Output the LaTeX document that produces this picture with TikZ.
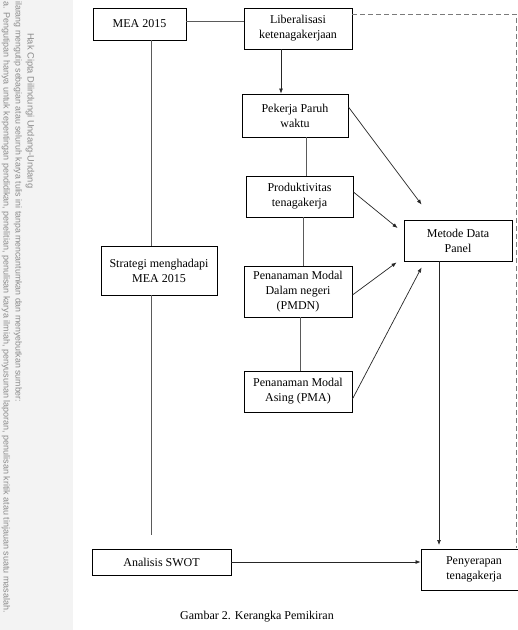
\documentclass[tikz,border=0pt]{standalone}
\usepackage{fontspec}
\setmainfont{Liberation Serif}
\newfontfamily\wmfont{Liberation Sans}
\usetikzlibrary{arrows.meta}
\definecolor{linegray}{HTML}{5A5A5A}
\definecolor{dashgray}{HTML}{7A7A7A}
\definecolor{wmgray}{HTML}{8C8C8C}
\definecolor{bandgray}{HTML}{F3F3F3}
\begin{document}
\begin{tikzpicture}[x=1pt,y=-1pt,
  box/.style={draw=black,line width=0.9pt,fill=white,inner sep=0pt,align=center,
    font=\fontsize{12}{15}\selectfont},
  plain/.style={draw=linegray,line width=0.9pt},
  arr/.style={draw=black!85,line width=0.7pt,-{Latex[length=5pt,width=4pt]}},
  dsh/.style={draw=dashgray,line width=1pt,dash pattern=on 5pt off 3pt},
  wm/.style={text=wmgray,rotate=-90,anchor=west,inner sep=0pt}]
\useasboundingbox (0,0) rectangle (518,630);
\clip (0,0) rectangle (518,630);
\fill[white] (0,0) rectangle (518,630);
\fill[bandgray] (0,0) rectangle (73,630);
% watermark
\node[wm,font=\wmfont\fontsize{9.3}{10}\selectfont] (wm1) at (30,33) {Hak Cipta Dilindungi Undang-Undang};
\node[wm,font=\wmfont\fontsize{8.8}{10}\selectfont] (wm2) at (18,1) {ilarang mengutip sebagian atau seluruh karya tulis ini tanpa mencantumkan dan menyebutkan sumber:};
\node[wm,font=\wmfont\fontsize{9}{10}\selectfont] (wm3) at (6,1) {a. Pengutipan hanya untuk kepentingan pendidikan, penelitian, penulisan karya ilmiah, penyusunan laporan, penulisan kritik atau tinjauan suatu masalah.};
% boxes
\node[box,minimum width=93pt,minimum height=32pt] (mea) at (139.5,24) {MEA 2015};
\node[box,minimum width=108pt,minimum height=41pt] (lib) at (298,28.5) {Liberalisasi\\ketenagakerjaan};
\node[box,minimum width=106pt,minimum height=43pt] (pek) at (295,115.5) {Pekerja Paruh\\waktu};
\node[box,minimum width=107pt,minimum height=41pt] (prod) at (299.5,196.5) {Produktivitas\\tenagakerja};
\node[box,minimum width=116pt,minimum height=49pt] (strat) at (159,270.5) {Strategi menghadapi\\MEA 2015};
\node[box,minimum width=108pt,minimum height=51pt] (pmdn) at (298,291.5) {Penanaman Modal\\Dalam negeri\\(PMDN)};
\node[box,minimum width=108pt,minimum height=41pt] (pma) at (298,391.5) {Penanaman Modal\\Asing (PMA)};
\node[box,minimum width=108pt,minimum height=41pt] (met) at (458,240.5) {Metode Data\\Panel};
\node[box,minimum width=139pt,minimum height=26pt] (swot) at (161.5,562) {Analisis SWOT};
\node[box,minimum width=106pt,minimum height=41pt] (peny) at (474,569.5) {Penyerapan\\tenagakerja};
\node[font=\fontsize{12}{15}\selectfont] (cap) at (257,617) {Gambar 2. Kerangka Pemikiran};
% coordinates
\coordinate (sEnd) at (151,535);
\coordinate (dCorner) at (516.5,14);
\coordinate (dEnd) at (516.5,548);
\coordinate (mEnd) at (439,545);
% plain lines
\draw[plain] ([yshift=3pt]mea.east) -- ([yshift=3pt]mea.east -| lib.west);
\draw[plain] ([xshift=11.5pt]mea.south) -- ([xshift=11.5pt]mea.south |- strat.north);
\draw[plain] ([xshift=-8pt]strat.south) -- (sEnd);
\draw[plain] ([xshift=11pt]pek.south) -- ([xshift=11pt]pek.south |- prod.north);
\draw[plain] ([xshift=3.5pt]prod.south) -- ([xshift=3.5pt]prod.south |- pmdn.north);
\draw[plain] ([xshift=2pt]pmdn.south) -- ([xshift=2pt]pmdn.south |- pma.north);
% arrows
\draw[arr] ([xshift=-17pt]lib.south) -- ([xshift=-17pt]lib.south |- pek.north);
\draw[arr] ([yshift=8.5pt]pek.east) -- ([xshift=18pt,yshift=15pt]met.north west);
\draw[arr] ([yshift=4.5pt]prod.east) -- ([xshift=-6pt,yshift=12.5pt]met.west);
\draw[arr] ([yshift=-3.5pt]pmdn.east) -- ([xshift=-7pt,yshift=-1pt]met.south west);
\draw[arr] ([yshift=-7.5pt]pma.east) -- ([xshift=18pt,yshift=-6pt]met.south west);
\draw[arr] ([xshift=-19pt]met.south) -- (mEnd);
\draw[arr] (swot.east) -- (swot.east -| peny.west);
% dashed feedback
\draw[dsh] ([yshift=14.5pt]lib.east) -- (dCorner) -- (dEnd);
\end{tikzpicture}
\end{document}
